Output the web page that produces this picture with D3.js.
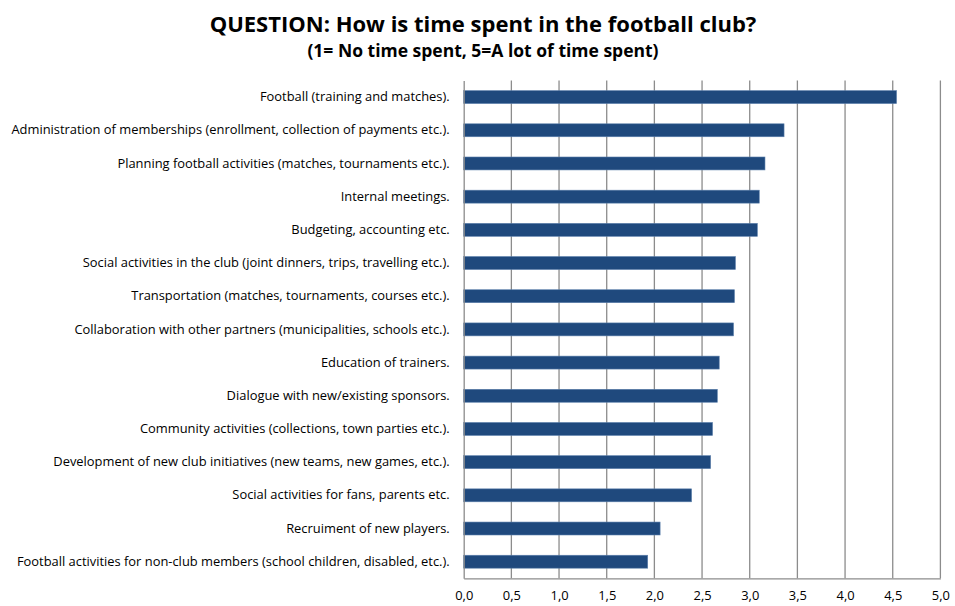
<!DOCTYPE html>
<html>
<head>
<meta charset="utf-8">
<script src="https://cdn.jsdelivr.net/npm/d3@7"></script>
<style>
  body { margin: 0; background: #fff; }
  svg { display: block; font-family: "Open Sans", "Liberation Sans", sans-serif; }
</style>
</head>
<body>
<svg width="955" height="606"></svg>
<script>
const categories = [
  "Football (training and matches).",
  "Administration of memberships (enrollment, collection of payments etc.).",
  "Planning football activities (matches, tournaments etc.).",
  "Internal meetings.",
  "Budgeting, accounting etc.",
  "Social activities in the club (joint dinners, trips, travelling etc.).",
  "Transportation (matches, tournaments, courses etc.).",
  "Collaboration with other partners (municipalities, schools etc.).",
  "Education of trainers.",
  "Dialogue with new/existing sponsors.",
  "Community activities (collections, town parties etc.).",
  "Development of new club initiatives (new teams, new games, etc.).",
  "Social activities for fans, parents etc.",
  "Recruiment of new players.",
  "Football activities for non-club members (school children, disabled, etc.)."
];
const values = [4.54, 3.36, 3.16, 3.10, 3.08, 2.85, 2.84, 2.83, 2.68, 2.66, 2.61, 2.59, 2.39, 2.06, 1.93];
const xTicks = [0, 0.5, 1, 1.5, 2, 2.5, 3, 3.5, 4, 4.5, 5];

const title = "QUESTION: How is time spent in the football club?";
const subtitle = "(1= No time spent, 5=A lot of time spent)";

const svg = d3.select("svg");
const margin = { left: 463.7, right: 14.6, top: 80.5, bottom: 27.7 };
const width = 955, height = 606;

const x = d3.scaleLinear()
  .domain([0, 5])
  .range([margin.left, width - margin.right]);

const y = d3.scaleBand()
  .domain(categories)
  .range([margin.top, height - margin.bottom])
  .paddingInner(0.61)
  .paddingOuter(0.305);

// gridlines
svg.append("g")
  .selectAll("line")
  .data(xTicks.slice(1))
  .enter()
  .append("line")
  .attr("x1", d => x(d))
  .attr("x2", d => x(d))
  .attr("y1", margin.top)
  .attr("y2", height - margin.bottom)
  .attr("stroke", "#8c8c8c")
  .attr("stroke-width", 1.3);

// bars
svg.append("g")
  .selectAll("rect")
  .data(values)
  .enter()
  .append("rect")
  .attr("x", x(0))
  .attr("y", (d, i) => y(categories[i]))
  .attr("width", d => x(d) - x(0))
  .attr("height", y.bandwidth())
  .attr("fill", "#1f497d")
  .attr("stroke", "#5b7fab")
  .attr("stroke-width", 0.6);

// axes
const xAxis = d3.axisBottom(x)
  .tickValues(xTicks)
  .tickSize(0)
  .tickPadding(13)
  .tickFormat(d => d3.format(".1f")(d).replace(".", ","));

svg.append("g")
  .attr("transform", `translate(0,${height - margin.bottom})`)
  .call(xAxis)
  .call(g => g.select(".domain").attr("stroke", "#8c8c8c").attr("stroke-width", 1.3))
  .call(g => g.selectAll("text")
    .style("font-family", "'Open Sans', sans-serif")
    .style("font-size", "12.9px")
    .style("fill", "#000"));

const yAxis = d3.axisLeft(y).tickSize(0).tickPadding(14);
svg.append("g")
  .attr("transform", `translate(${margin.left},0)`)
  .call(yAxis)
  .call(g => g.select(".domain").attr("stroke", "#8c8c8c").attr("stroke-width", 1.3))
  .call(g => g.selectAll("text")
    .style("font-family", "'Open Sans', sans-serif")
    .style("font-size", "12.9px")
    .style("fill", "#000"));

// titles
svg.append("text")
  .attr("x", 483)
  .attr("y", 32)
  .attr("text-anchor", "middle")
  .style("font-size", "22px")
  .style("font-weight", "700")
  .text(title);

svg.append("text")
  .attr("x", 483)
  .attr("y", 57)
  .attr("text-anchor", "middle")
  .style("font-size", "17.5px")
  .style("font-weight", "700")
  .text(subtitle);
</script>
</body>
</html>
